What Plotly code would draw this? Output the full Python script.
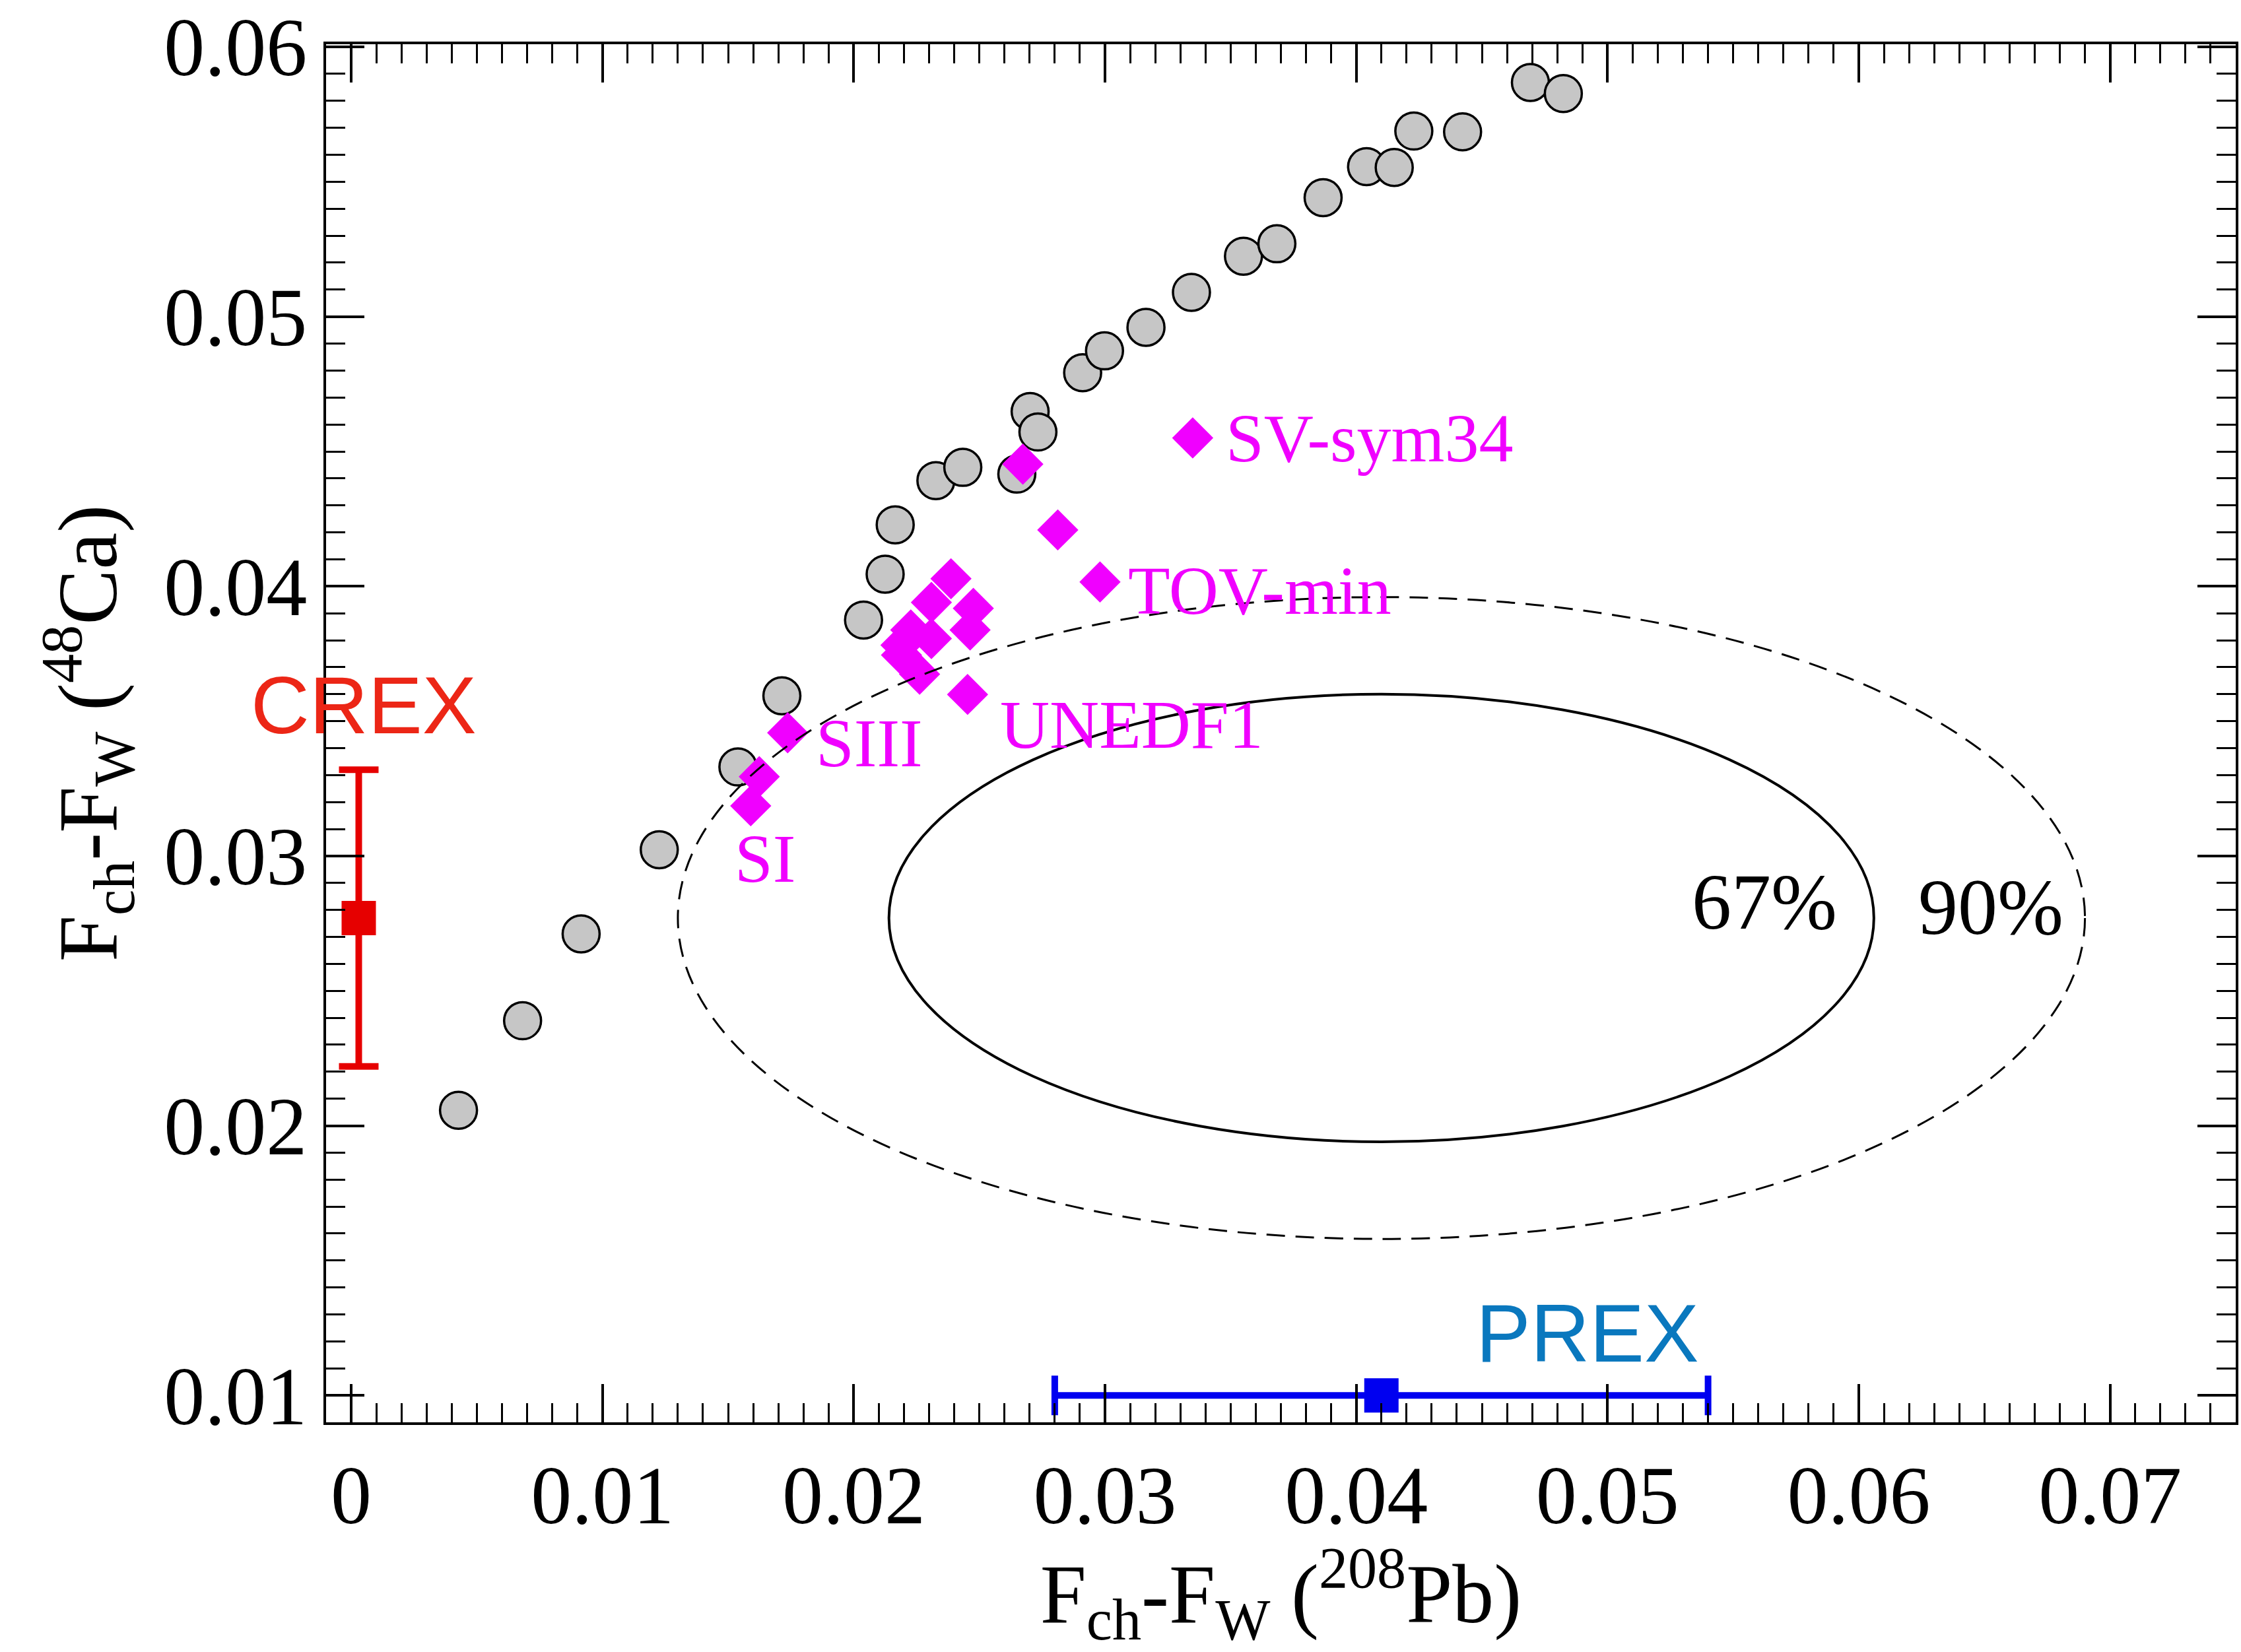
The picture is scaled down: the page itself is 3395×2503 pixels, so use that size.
import plotly.graph_objects as go

# ---------------- data ----------------
grey_x = [0.00427, 0.00682, 0.00915, 0.01226, 0.01539, 0.01714, 0.02039, 0.02125, 0.02165,
          0.02327, 0.02434, 0.02649, 0.02702, 0.02733, 0.02911, 0.02998, 0.03163, 0.03344,
          0.03551, 0.03684, 0.03868, 0.04041, 0.04151, 0.04229, 0.04423, 0.04693, 0.04824]
grey_y = [0.02057, 0.02389, 0.02711, 0.03023, 0.03330, 0.03594, 0.03875, 0.04045, 0.04228,
          0.04392, 0.04441, 0.04416, 0.04648, 0.04572, 0.04792, 0.04873, 0.04960, 0.05090,
          0.05224, 0.05270, 0.05441, 0.05556, 0.05553, 0.05688, 0.05685, 0.05868, 0.05827]

mag_x = [0.01590, 0.01624, 0.01737, 0.02262, 0.02190, 0.02188, 0.02227, 0.02309, 0.02309,
         0.02387, 0.02476, 0.02463, 0.02453, 0.02673, 0.02812, 0.02980, 0.03349]
mag_y = [0.03186, 0.03294, 0.03457, 0.03674, 0.03745, 0.03782, 0.03838, 0.03806, 0.03940,
         0.04028, 0.03918, 0.03838, 0.03599, 0.04453, 0.04209, 0.04016, 0.04550]

label_names = ["SV-sym34", "TOV-min", "UNEDF1", "SIII", "SI"]
label_x = [0.03475, 0.03087, 0.02578, 0.01845, 0.01646]
label_y = [0.04550, 0.03984, 0.03489, 0.03420, 0.02991]
label_anchor = ["left", "left", "left", "left", "center"]

crex_x, crex_y, crex_err = 0.0003, 0.0277, 0.0055
prex_x, prex_y, prex_err = 0.041, 0.010, 0.013

ell_levels = ["67%", "90%"]
ell_cx, ell_cy = 0.041, 0.0277
ell_ax = [0.0196, 0.0280]
ell_ay = [0.0083, 0.0119]
ell_dash = ["solid", "28px,16px"]
ell_width = [4, 3]
ell_label_x = [0.0533, 0.0623]
ell_label_y = [0.0283, 0.0281]

x_ticks = [0, 0.01, 0.02, 0.03, 0.04, 0.05, 0.06, 0.07]
x_ticktext = ["0", "0.01", "0.02", "0.03", "0.04", "0.05", "0.06", "0.07"]
y_ticks = [0.01, 0.02, 0.03, 0.04, 0.05, 0.06]
y_ticktext = ["0.01", "0.02", "0.03", "0.04", "0.05", "0.06"]

SERIF = "Liberation Serif, Times New Roman, serif"
SANS = "Liberation Sans, Arial, Helvetica, sans-serif"
MAG = "#f000ff"

fig = go.Figure()

fig.add_trace(go.Scatter(
    x=grey_x, y=grey_y, mode="markers",
    marker=dict(symbol="circle", size=56, color="#c6c6c6",
                line=dict(color="black", width=3.5)),
    showlegend=False))

fig.add_trace(go.Scatter(
    x=mag_x, y=mag_y, mode="markers",
    marker=dict(symbol="diamond", size=48, color=MAG, line=dict(width=0)),
    showlegend=False))

fig.add_trace(go.Scatter(
    x=[crex_x], y=[crex_y], mode="markers",
    marker=dict(symbol="square", size=52, color="#e60000"),
    error_y=dict(type="data", array=[crex_err], color="#e60000", thickness=10, width=30),
    showlegend=False, cliponaxis=False))

fig.add_trace(go.Scatter(
    x=[prex_x], y=[prex_y], mode="markers",
    marker=dict(symbol="square", size=52, color="#0000f0"),
    error_x=dict(type="data", array=[prex_err], color="#0000f0", thickness=10, width=30),
    showlegend=False, cliponaxis=False))

for i in range(len(ell_levels)):
    fig.add_shape(type="circle", xref="x", yref="y",
                  x0=ell_cx - ell_ax[i], x1=ell_cx + ell_ax[i],
                  y0=ell_cy - ell_ay[i], y1=ell_cy + ell_ay[i],
                  line=dict(color="black", width=ell_width[i], dash=ell_dash[i]),
                  layer="above")
    fig.add_annotation(x=ell_label_x[i], y=ell_label_y[i], text=ell_levels[i],
                       showarrow=False, xanchor="left", yanchor="middle",
                       font=dict(family=SERIF, size=120, color="black"))

for n, lx, ly, anc in zip(label_names, label_x, label_y, label_anchor):
    fig.add_annotation(x=lx, y=ly, text=n, showarrow=False, xanchor=anc, yanchor="middle",
                       font=dict(family=SERIF, size=104, color=MAG))

fig.add_annotation(x=0.0005, y=0.0356, text="CREX", showarrow=False,
                   xanchor="center", yanchor="middle",
                   font=dict(family=SANS, size=123, color="#ec2616"))
fig.add_annotation(x=0.0492, y=0.0123, text="PREX", showarrow=False,
                   xanchor="center", yanchor="middle",
                   font=dict(family=SANS, size=124, color="#0a78be"))

axis_common = dict(
    showline=True, linecolor="black", linewidth=4, mirror="allticks",
    ticks="inside", ticklen=58, tickwidth=3.5, tickcolor="black",
    showgrid=False, zeroline=False,
    tickfont=dict(family=SERIF, size=124, color="black"),
    ticklabeloverflow="allow",
)

fig.update_xaxes(
    range=[-0.001, 0.075], tickmode="array", tickvals=x_ticks, ticktext=x_ticktext,
    minor=dict(dtick=0.001, tick0=0, ticks="inside", ticklen=29, tickwidth=3, tickcolor="black",
               showgrid=False),
    title=dict(text="F<sub>ch</sub>-F<sub>W</sub> (<sup>208</sup>Pb)",
               font=dict(family=SERIF, size=126, color="black"), standoff=20),
    **axis_common)
fig.update_yaxes(
    range=[0.009, 0.0601], tickmode="array", tickvals=y_ticks, ticktext=y_ticktext,
    minor=dict(dtick=0.001, tick0=0, ticks="inside", ticklen=29, tickwidth=3, tickcolor="black",
               showgrid=False),
    title=dict(text="F<sub>ch</sub>-F<sub>W</sub> (<sup>48</sup>Ca)",
               font=dict(family=SERIF, size=126, color="black"), standoff=30),
    **axis_common)

fig.update_layout(
    width=3395, height=2503,
    margin=dict(l=494, r=4, t=59, b=348, pad=0),
    paper_bgcolor="white", plot_bgcolor="white",
    showlegend=False,
)

fig.write_html("out.html")
